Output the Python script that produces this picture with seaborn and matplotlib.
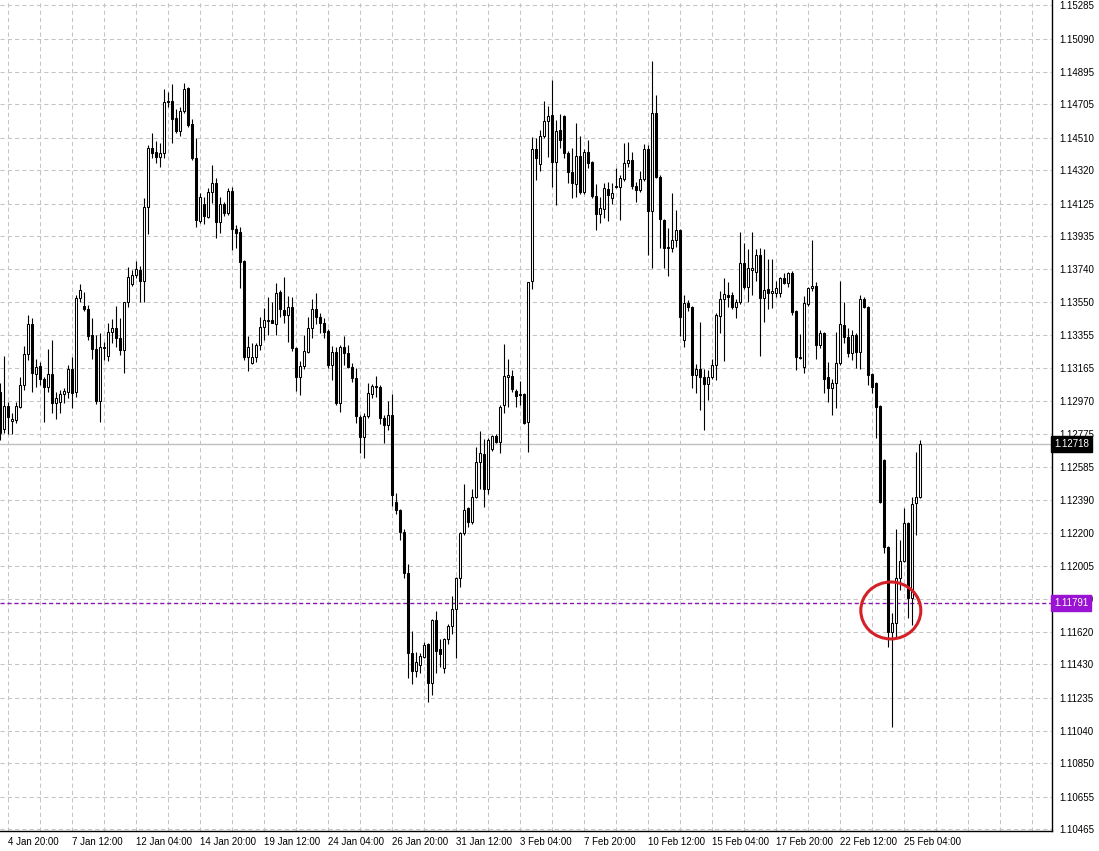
import numpy as np
import pandas as pd
import seaborn as sns
import matplotlib.pyplot as plt
from matplotlib.patches import Ellipse

sns.set_style('white')
plt.rcParams['font.family'] = ['Liberation Sans', 'DejaVu Sans']

# 4H candles
opens = [
    1.13023, 1.12806, 1.12941, 1.12853, 1.12859, 1.12935, 1.13064, 1.13245, 1.13421, 1.13128,
    1.13175, 1.13099, 1.13052, 1.13128, 1.12958, 1.12964, 1.13011, 1.13023, 1.13157, 1.13023,
    1.13573, 1.13526, 1.13508, 1.13356, 1.13274, 1.12970, 1.13280, 1.13233, 1.13374, 1.13397,
    1.13339, 1.13268, 1.13549, 1.13655, 1.13707, 1.13736, 1.13672, 1.14105, 1.14450, 1.14427,
    1.14398, 1.14421, 1.14725, 1.14725, 1.14626, 1.14550, 1.14667, 1.14801, 1.14591, 1.14392,
    1.14023, 1.14123, 1.14047, 1.14193, 1.14245, 1.14017, 1.14123, 1.14070, 1.14199, 1.13976,
    1.13959, 1.13789, 1.13228, 1.13192, 1.13228, 1.13298, 1.13403, 1.13438, 1.13444, 1.13421,
    1.13608, 1.13503, 1.13473, 1.13520, 1.13280, 1.13111, 1.13175, 1.13257, 1.13397, 1.13508,
    1.13462, 1.13426, 1.13380, 1.13181, 1.13257, 1.12958, 1.13286, 1.13251, 1.13169, 1.13105,
    1.12877, 1.12760, 1.12883, 1.13011, 1.13058, 1.13052, 1.12871, 1.12830, 1.12889, 1.12379,
    1.12332, 1.12204, 1.11964, 1.11496, 1.11391, 1.11426, 1.11473, 1.11549, 1.11321, 1.11689,
    1.11519, 1.11408, 1.11578, 1.11654, 1.11753, 1.11935, 1.12198, 1.12344, 1.12262, 1.12409,
    1.12613, 1.12660, 1.12455, 1.12689, 1.12766, 1.12730, 1.12947, 1.13111, 1.13117, 1.13029,
    1.13011, 1.13011, 1.12847, 1.13672, 1.14444, 1.14357, 1.14520, 1.14608, 1.14643, 1.14368,
    1.14556, 1.14637, 1.14421, 1.14310, 1.14240, 1.14404, 1.14193, 1.14427, 1.14368, 1.14170,
    1.14064, 1.14093, 1.14211, 1.14158, 1.14222, 1.14222, 1.14269, 1.14362, 1.14380, 1.14228,
    1.14204, 1.14269, 1.14444, 1.14082, 1.14655, 1.14281, 1.14029, 1.13871, 1.13865, 1.13912,
    1.13970, 1.13327, 1.13543, 1.13520, 1.13122, 1.13157, 1.13111, 1.13070, 1.13111, 1.13181,
    1.13467, 1.13567, 1.13590, 1.13590, 1.13520, 1.13549, 1.13777, 1.13637, 1.13736, 1.13725,
    1.13824, 1.13573, 1.13626, 1.13602, 1.13602, 1.13602, 1.13690, 1.13661, 1.13719, 1.13497,
    1.13228, 1.13169, 1.13538, 1.13632, 1.13643, 1.13298, 1.13368, 1.13111, 1.13046, 1.13075,
    1.13192, 1.13415, 1.13345, 1.13251, 1.13356, 1.13257, 1.13567, 1.13520, 1.13128, 1.13075,
    1.12941, 1.12625, 1.12117, 1.11619, 1.11671, 1.11935, 1.12034, 1.12257, 1.11818, 1.12373,
    1.12409,
]
highs = [
    1.13075, 1.13233, 1.12964, 1.12900, 1.12964, 1.13111, 1.13292, 1.13473, 1.13456, 1.13216,
    1.13198, 1.13111, 1.13274, 1.13327, 1.13023, 1.13034, 1.13046, 1.13181, 1.13228, 1.13590,
    1.13655, 1.13608, 1.13532, 1.13456, 1.13356, 1.13368, 1.13315, 1.13426, 1.13450, 1.13526,
    1.13456, 1.13549, 1.13754, 1.13736, 1.13789, 1.13760, 1.14158, 1.14468, 1.14538, 1.14491,
    1.14479, 1.14795, 1.14778, 1.14825, 1.14678, 1.14690, 1.14830, 1.14807, 1.14620, 1.14509,
    1.14187, 1.14164, 1.14216, 1.14351, 1.14275, 1.14164, 1.14134, 1.14216, 1.14222, 1.14000,
    1.13988, 1.13795, 1.13350, 1.13309, 1.13309, 1.13462, 1.13514, 1.13579, 1.13549, 1.13661,
    1.13620, 1.13696, 1.13584, 1.13579, 1.13286, 1.13204, 1.13356, 1.13462, 1.13567, 1.13602,
    1.13485, 1.13456, 1.13391, 1.13292, 1.13286, 1.13298, 1.13350, 1.13298, 1.13192, 1.13163,
    1.12889, 1.12900, 1.13075, 1.13070, 1.13117, 1.13064, 1.12889, 1.12970, 1.13011, 1.12432,
    1.12338, 1.12221, 1.12017, 1.11625, 1.11502, 1.11496, 1.11560, 1.11555, 1.11695, 1.11742,
    1.11578, 1.11584, 1.11666, 1.11830, 1.11941, 1.12204, 1.12485, 1.12350, 1.12455, 1.12701,
    1.12795, 1.12748, 1.12754, 1.12771, 1.12777, 1.12947, 1.13304, 1.13216, 1.13152, 1.13040,
    1.13087, 1.13017, 1.13666, 1.14515, 1.14509, 1.14556, 1.14725, 1.14696, 1.14848, 1.14614,
    1.14649, 1.14643, 1.14433, 1.14450, 1.14596, 1.14520, 1.14444, 1.14497, 1.14374, 1.14240,
    1.14164, 1.14245, 1.14251, 1.14245, 1.14333, 1.14292, 1.14479, 1.14485, 1.14427, 1.14251,
    1.14316, 1.14474, 1.14468, 1.14959, 1.14760, 1.14292, 1.14035, 1.13982, 1.14187, 1.14088,
    1.13976, 1.13590, 1.13561, 1.13526, 1.13187, 1.13432, 1.13157, 1.13152, 1.13216, 1.13485,
    1.13614, 1.13690, 1.13666, 1.13608, 1.13567, 1.13959, 1.13894, 1.13859, 1.13959, 1.13859,
    1.13865, 1.13859, 1.13801, 1.13801, 1.13672, 1.13696, 1.13719, 1.13725, 1.13731, 1.13503,
    1.13362, 1.13584, 1.13637, 1.13912, 1.13666, 1.13385, 1.13374, 1.13198, 1.13099, 1.13374,
    1.13672, 1.13549, 1.13397, 1.13385, 1.13368, 1.13590, 1.13579, 1.13526, 1.13134, 1.13081,
    1.12947, 1.12631, 1.12122, 1.11730, 1.12221, 1.12157, 1.12344, 1.12262, 1.12409, 1.12672,
    1.12742,
]
lows = [
    1.12742, 1.12783, 1.12777, 1.12777, 1.12841, 1.12929, 1.13034, 1.13210, 1.13023, 1.13052,
    1.13064, 1.12847, 1.13023, 1.12900, 1.12865, 1.12900, 1.12958, 1.12988, 1.12929, 1.12994,
    1.13549, 1.13497, 1.13327, 1.13216, 1.12953, 1.12847, 1.13210, 1.13204, 1.13309, 1.13286,
    1.13239, 1.13134, 1.13520, 1.13643, 1.13690, 1.13549, 1.13549, 1.13947, 1.14392, 1.14362,
    1.14339, 1.14392, 1.14690, 1.14479, 1.14538, 1.14520, 1.14655, 1.14573, 1.14380, 1.13988,
    1.14012, 1.14006, 1.14041, 1.14129, 1.13924, 1.13953, 1.14052, 1.14058, 1.13853, 1.13865,
    1.13632, 1.13210, 1.13146, 1.13187, 1.13198, 1.13268, 1.13327, 1.13356, 1.13426, 1.13356,
    1.13462, 1.13426, 1.13315, 1.13263, 1.13029, 1.13005, 1.13157, 1.13251, 1.13339, 1.13421,
    1.13368, 1.13339, 1.13163, 1.13093, 1.12947, 1.12906, 1.13181, 1.13163, 1.13081, 1.12841,
    1.12666, 1.12637, 1.12871, 1.12988, 1.12994, 1.12835, 1.12724, 1.12800, 1.12356, 1.12309,
    1.12157, 1.11935, 1.11350, 1.11315, 1.11356, 1.11379, 1.11467, 1.11209, 1.11250, 1.11379,
    1.11414, 1.11379, 1.11549, 1.11607, 1.11467, 1.11882, 1.12186, 1.12233, 1.12251, 1.12403,
    1.12455, 1.12350, 1.12426, 1.12678, 1.12724, 1.12666, 1.12900, 1.12935, 1.13023, 1.12935,
    1.12947, 1.12836, 1.12672, 1.13626, 1.14263, 1.14316, 1.14509, 1.14398, 1.14222, 1.14117,
    1.14450, 1.14392, 1.14245, 1.14158, 1.14164, 1.14181, 1.14181, 1.14333, 1.14158, 1.13970,
    1.14012, 1.14041, 1.14023, 1.14123, 1.14216, 1.14029, 1.14257, 1.14339, 1.14211, 1.14134,
    1.14193, 1.14257, 1.13824, 1.13748, 1.14275, 1.13865, 1.13748, 1.13701, 1.13842, 1.13871,
    1.13350, 1.13286, 1.13497, 1.13046, 1.13017, 1.12917, 1.12800, 1.12976, 1.13099, 1.13093,
    1.13368, 1.13204, 1.13520, 1.13508, 1.13456, 1.13538, 1.13626, 1.13549, 1.13590, 1.13672,
    1.13233, 1.13432, 1.13508, 1.13514, 1.13579, 1.13579, 1.13655, 1.13637, 1.13473, 1.13152,
    1.13216, 1.13134, 1.13526, 1.13614, 1.13216, 1.13280, 1.13017, 1.12964, 1.12889, 1.12929,
    1.13181, 1.13309, 1.13228, 1.13210, 1.13163, 1.13157, 1.13514, 1.13064, 1.13017, 1.12754,
    1.12373, 1.12081, 1.11531, 1.11063, 1.11590, 1.11864, 1.12028, 1.11701, 1.11660, 1.12186,
    1.12403,
]
closes = [
    1.12783, 1.12941, 1.12877, 1.12865, 1.12941, 1.13064, 1.13245, 1.13421, 1.13134, 1.13169,
    1.13099, 1.13052, 1.13128, 1.12958, 1.12988, 1.13011, 1.13029, 1.13157, 1.13017, 1.13573,
    1.13620, 1.13508, 1.13350, 1.13274, 1.12970, 1.13286, 1.13286, 1.13374, 1.13397, 1.13339,
    1.13268, 1.13549, 1.13696, 1.13707, 1.13742, 1.13672, 1.14105, 1.14450, 1.14421, 1.14398,
    1.14421, 1.14719, 1.14719, 1.14620, 1.14550, 1.14667, 1.14795, 1.14585, 1.14392, 1.14029,
    1.14164, 1.14052, 1.14193, 1.14245, 1.14017, 1.14123, 1.14070, 1.14199, 1.13976, 1.13953,
    1.13783, 1.13228, 1.13286, 1.13228, 1.13298, 1.13403, 1.13444, 1.13444, 1.13426, 1.13602,
    1.13508, 1.13473, 1.13520, 1.13280, 1.13111, 1.13175, 1.13263, 1.13397, 1.13508, 1.13462,
    1.13426, 1.13374, 1.13181, 1.13257, 1.12958, 1.13286, 1.13251, 1.13169, 1.13105, 1.12883,
    1.12760, 1.12883, 1.13017, 1.13058, 1.13052, 1.12871, 1.12830, 1.12889, 1.12420, 1.12332,
    1.12204, 1.11964, 1.11496, 1.11391, 1.11443, 1.11478, 1.11543, 1.11321, 1.11689, 1.11508,
    1.11490, 1.11578, 1.11654, 1.11753, 1.11935, 1.12198, 1.12332, 1.12262, 1.12409, 1.12613,
    1.12666, 1.12455, 1.12742, 1.12766, 1.12730, 1.12935, 1.13117, 1.13122, 1.13040, 1.13000,
    1.13005, 1.12841, 1.13666, 1.14444, 1.14392, 1.14520, 1.14608, 1.14637, 1.14368, 1.14550,
    1.14497, 1.14421, 1.14310, 1.14245, 1.14404, 1.14193, 1.14427, 1.14362, 1.14170, 1.14064,
    1.14099, 1.14216, 1.14176, 1.14187, 1.14228, 1.14275, 1.14362, 1.14380, 1.14228, 1.14204,
    1.14269, 1.14444, 1.14082, 1.14655, 1.14281, 1.14035, 1.13865, 1.13865, 1.13912, 1.13970,
    1.13462, 1.13543, 1.13520, 1.13122, 1.13157, 1.13111, 1.13070, 1.13111, 1.13181, 1.13473,
    1.13567, 1.13596, 1.13579, 1.13520, 1.13549, 1.13777, 1.13637, 1.13748, 1.13748, 1.13824,
    1.13573, 1.13620, 1.13602, 1.13614, 1.13632, 1.13690, 1.13661, 1.13719, 1.13491, 1.13228,
    1.13222, 1.13543, 1.13632, 1.13643, 1.13298, 1.13368, 1.13099, 1.13046, 1.13075, 1.13192,
    1.13421, 1.13345, 1.13251, 1.13356, 1.13257, 1.13567, 1.13520, 1.13122, 1.13052, 1.12935,
    1.12379, 1.12117, 1.11619, 1.11671, 1.11935, 1.12034, 1.12257, 1.11818, 1.12368, 1.12409,
    1.12718,
]

date_labels = ['4 Jan 20:00', '7 Jan 12:00', '12 Jan 04:00', '14 Jan 20:00', '19 Jan 12:00',
               '24 Jan 04:00', '26 Jan 20:00', '31 Jan 12:00', '3 Feb 04:00', '7 Feb 20:00',
               '10 Feb 12:00', '15 Feb 04:00', '17 Feb 20:00', '22 Feb 12:00', '25 Feb 04:00']
price_labels = ['1.15285', '1.15090', '1.14895', '1.14705', '1.14510', '1.14320', '1.14125',
                '1.13935', '1.13740', '1.13550', '1.13355', '1.13165', '1.12970', '1.12775',
                '1.12585', '1.12390', '1.12200', '1.12005', '1.11810', '1.11620', '1.11430',
                '1.11235', '1.11040', '1.10850', '1.10655', '1.10465']
last_price = 1.12718
marked_price = 1.11791

df = pd.DataFrame({'open': opens, 'high': highs, 'low': lows, 'close': closes})
df['bar'] = np.arange(len(df))
df['up'] = df['close'] >= df['open']
df['body_lo'] = df[['open', 'close']].min(axis=1)
df['body_hi'] = df[['open', 'close']].max(axis=1)

fig = plt.figure(figsize=(10.99, 8.51), dpi=100)
ax = fig.add_axes([0, 20 / 851, 1052 / 1099, 831 / 851])

grid_kw = dict(color='#c4c4c4', lw=0.75, linestyle=(0, (4, 3)), zorder=1)
for v in np.arange(2, 263, 8):
    ax.axvline(v, **grid_kw)
for s in price_labels:
    ax.axhline(float(s), **grid_kw)

# current bid line and the marked level
ax.axhline(last_price, color='#c0c0c0', lw=1, zorder=1.5)
ax.axhline(marked_price, color='#8a14b0', lw=1, linestyle=(0, (3, 2)), zorder=1.5)

ax.vlines(df['bar'], df['low'], df['high'], color='black', lw=0.8, zorder=3)
ax.bar(df['bar'], df['body_hi'] - df['body_lo'], bottom=df['body_lo'], width=0.55,
       color=np.where(df['up'], 'white', 'black'), edgecolor='black', linewidth=0.75, zorder=4)

ax.add_patch(Ellipse((222.7, 1.11745), width=15, height=0.00333, fill=False,
                     edgecolor='#d42027', lw=2.2, zorder=6))

ax.set_xlim(0, 263)
ax.set_ylim(1.10455, 1.15316)

ax.yaxis.tick_right()
ax.set_yticks([float(s) for s in price_labels])
ax.set_yticklabels(price_labels)
ax.set_xticks(np.arange(len(date_labels)) * 16 + 2)
ax.set_xticklabels(date_labels, ha='left')
ax.tick_params(axis='both', direction='out', length=3, width=0.75, color='black',
               labelsize=7, labelcolor='black')
ax.tick_params(axis='y', pad=2.5)
ax.tick_params(axis='x', pad=1.5)

sns.despine(ax=ax, left=True, top=True, right=False, bottom=False)
for side in ['right', 'bottom']:
    ax.spines[side].set_color('black')
    ax.spines[side].set_linewidth(1)

box_kw = dict(xycoords=('axes fraction', 'data'), xytext=(1.5, 0), textcoords='offset points',
              ha='left', va='center', color='white', fontsize=7, annotation_clip=False, zorder=10)
ax.annotate(f'{last_price:.5f}', xy=(1, last_price),
            bbox=dict(boxstyle='square,pad=0.3', fc='black', ec='black'), **box_kw)
ax.annotate(f'{marked_price:.5f}', xy=(1, marked_price),
            bbox=dict(boxstyle='square,pad=0.3', fc='#9a12d2', ec='#9a12d2'), **box_kw)

fig.savefig('out.png', dpi=100, facecolor='white')
